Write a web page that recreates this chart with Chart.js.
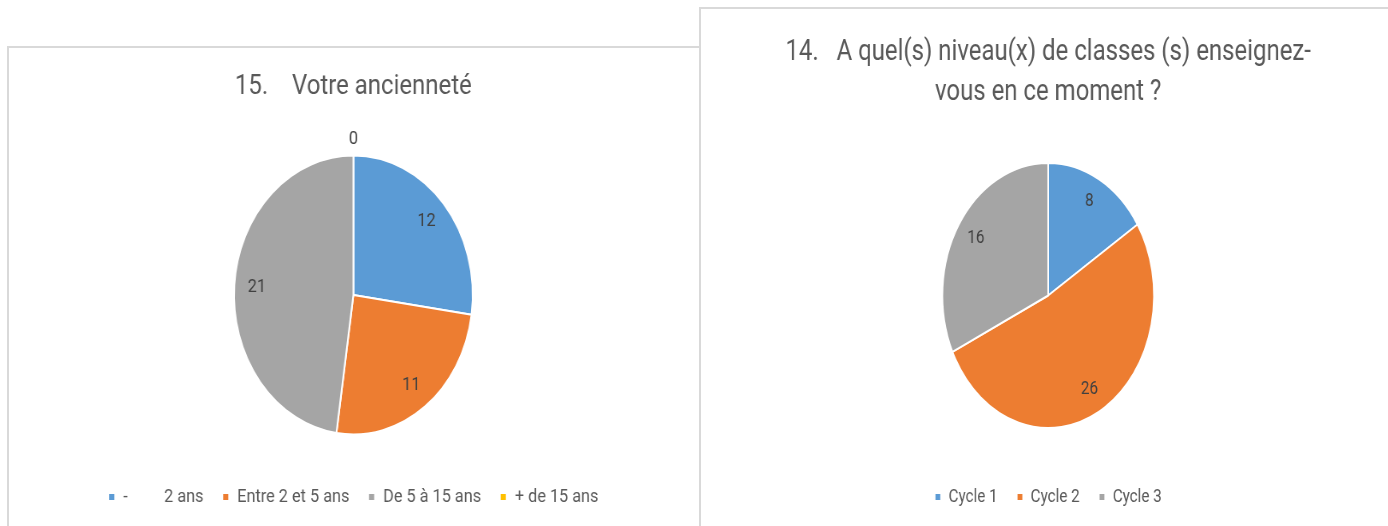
<!DOCTYPE html>
<html>
<head>
<meta charset="utf-8">
<script src="https://cdn.jsdelivr.net/npm/chart.js@4"></script>
<style>
  html, body { margin: 0; padding: 0; background: #fff; width: 1388px; height: 526px; overflow: hidden; }
  .panel { position: absolute; box-sizing: border-box; border-top: 2px solid #d9d9d9; border-left: 2px solid #d9d9d9; }
  canvas { position: absolute; transform-origin: 0 0; }
</style>
</head>
<body>
<div class="panel" style="left:7px; top:46px; width:692px; height:490px;"></div>
<div class="panel" style="left:699px; top:7px; width:700px; height:530px;"></div>
<canvas id="anciennete" width="805" height="478" style="left:9px; top:48px; transform: scaleX(0.8556);"></canvas>
<canvas id="cycles" width="852" height="517" style="left:708px; top:9px; transform: scaleX(0.7985);"></canvas>
<script>
const ancLabels = ['-\u00a0\u00a0\u00a0\u00a0\u00a0\u00a0\u00a0\u00a0\u00a02 ans', 'Entre 2 et 5 ans', 'De 5 à 15 ans', '+ de 15 ans'];
const ancValues = [12, 11, 21, 0];
const cycleLabels = ['Cycle 1', 'Cycle 2', 'Cycle 3'];
const cycleValues = [8, 26, 16];
const officeColors = ['#5B9BD5', '#ED7D31', '#A5A5A5', '#FFC000'];

Chart.defaults.font.family = 'Roboto';
Chart.defaults.color = '#595959';

// value labels inside the slices (zero sits just outside)
const sliceLabels = {
  id: 'sliceLabels',
  afterDatasetsDraw(chart) {
    const ctx = chart.ctx;
    const meta = chart.getDatasetMeta(0);
    const values = chart.data.datasets[0].data;
    ctx.save();
    ctx.font = '19px Roboto';
    ctx.fillStyle = '#404040';
    ctx.textAlign = 'center';
    ctx.textBaseline = 'middle';
    meta.data.forEach((arc, i) => {
      const p = arc.getProps(['x', 'y', 'startAngle', 'endAngle', 'outerRadius'], true);
      const mid = (p.startAngle + p.endAngle) / 2;
      const k = values[i] === 0 ? 1.12 : 0.81;
      ctx.fillText(String(values[i]), p.x + Math.cos(mid) * p.outerRadius * k, p.y + Math.sin(mid) * p.outerRadius * k);
    });
    ctx.restore();
  }
};

new Chart(document.getElementById('anciennete'), {
  type: 'pie',
  data: {
    labels: ancLabels,
    datasets: [{
      data: ancValues,
      backgroundColor: officeColors,
      borderColor: '#ffffff',
      borderWidth: 2,
      radius: 139.5
    }]
  },
  options: {
    responsive: false,
    animation: false,
    events: [],
    layout: { padding: { bottom: 9.5 } },
    plugins: {
      title: {
        display: true,
        text: '15.\u00a0\u00a0\u00a0\u00a0Votre ancienneté',
        color: '#595959',
        font: { size: 28, weight: 'normal', lineHeight: 1.2 },
        padding: { top: 22.2, bottom: 20.7 }
      },
      legend: {
        position: 'bottom',
        labels: { boxWidth: 8, boxHeight: 8, padding: 22, color: '#595959', font: { size: 19 } }
      },
      tooltip: { enabled: false }
    }
  },
  plugins: [sliceLabels]
});

new Chart(document.getElementById('cycles'), {
  type: 'pie',
  data: {
    labels: cycleLabels,
    datasets: [{
      data: cycleValues,
      backgroundColor: officeColors.slice(0, 3),
      borderColor: '#ffffff',
      borderWidth: 2,
      radius: 132.5
    }]
  },
  options: {
    responsive: false,
    animation: false,
    events: [],
    layout: { padding: { bottom: 9.5 } },
    plugins: {
      title: {
        display: true,
        text: ['14.\u00a0\u00a0\u00a0A quel(s) niveau(x) de classes (s) enseignez-', 'vous en ce moment ?'],
        color: '#595959',
        font: { size: 30, weight: 'normal', lineHeight: 40 / 30 },
        padding: { top: 23, bottom: 15.5 }
      },
      legend: {
        position: 'bottom',
        labels: { boxWidth: 8, boxHeight: 8, padding: 24, color: '#595959', font: { size: 19 } }
      },
      tooltip: { enabled: false }
    }
  },
  plugins: [sliceLabels]
});
</script>
</body>
</html>
